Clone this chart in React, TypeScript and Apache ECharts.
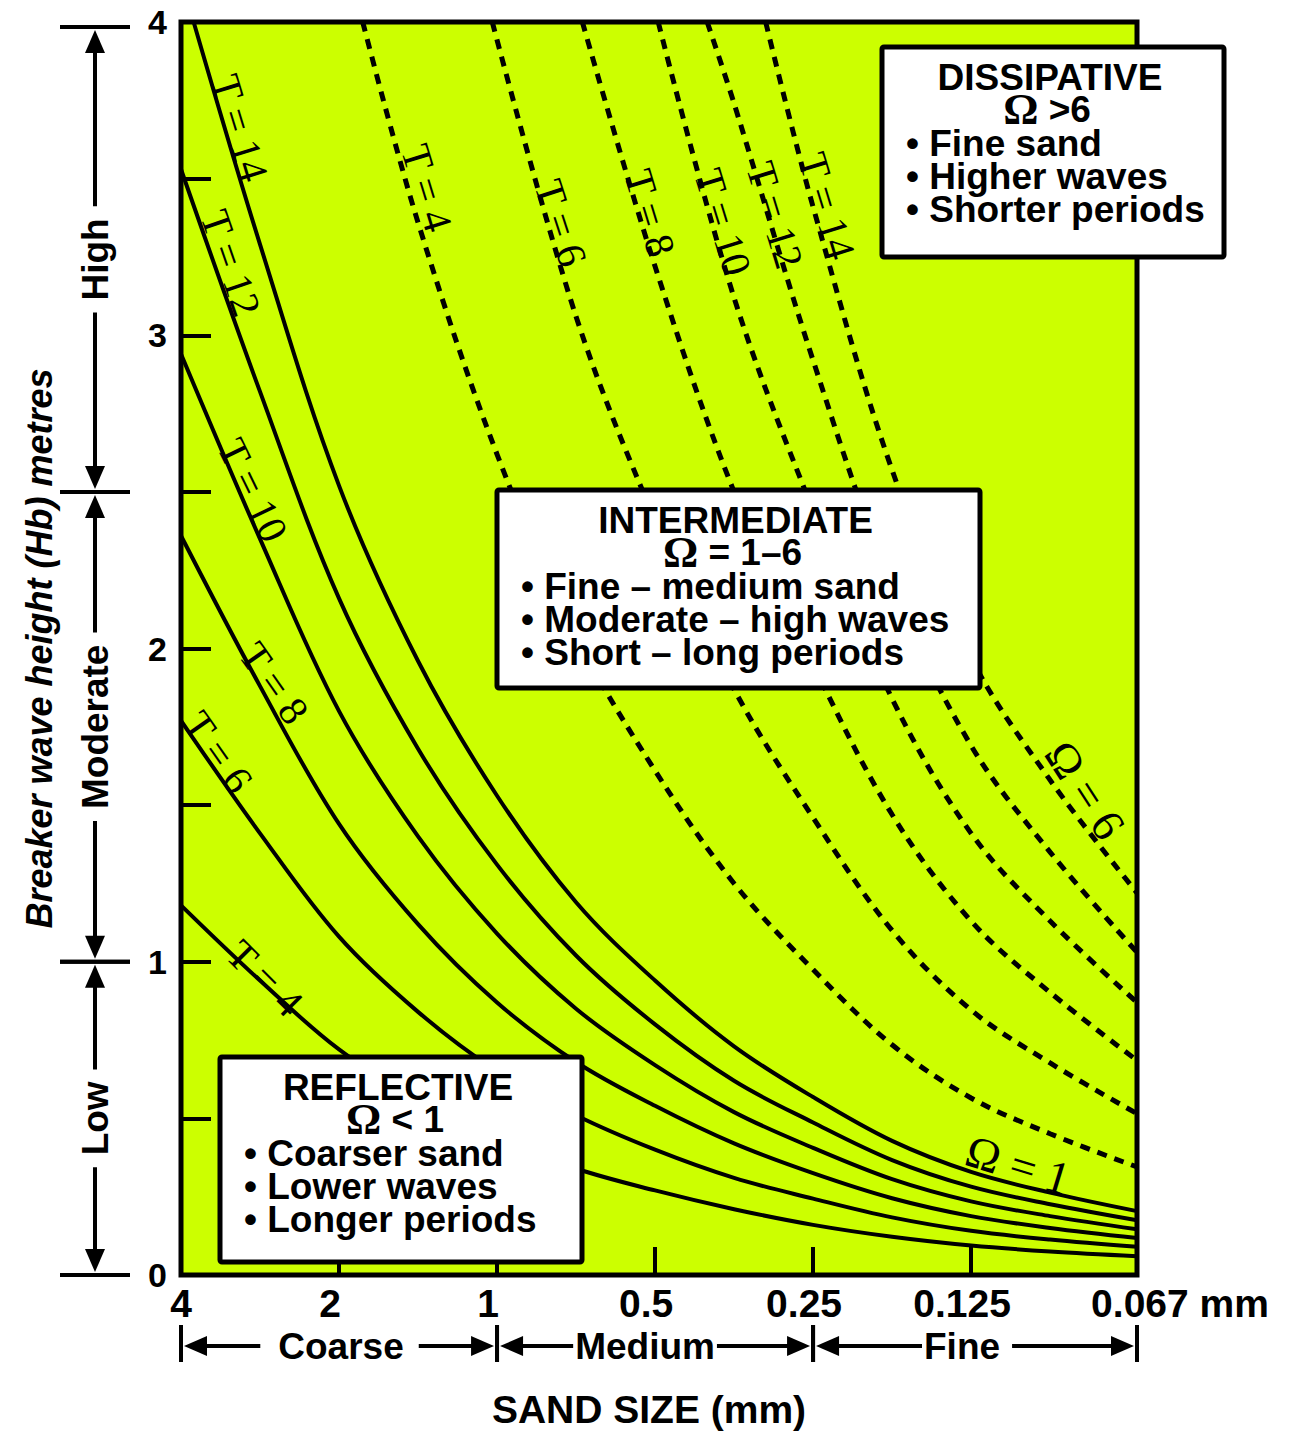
import React, { useEffect, useRef } from 'react';
import * as echarts from 'echarts';

// ---------- axis data ----------
// sand size labels (mm) and their position on the phi (-log2 d) axis
const sizeLabels = ['4', '2', '1', '0.5', '0.25', '0.125', '0.067'];
const sizePhi = [-2, -1, 0, 1, 2, 3, 4.05];
const heightTickStep = 0.5;

// ---------- curves: Omega = 1 (solid), one per wave period T ----------
const periods = [4, 6, 8, 10, 12, 14];
const omega1T4 = [[-2, 1.18], [-1.5, 0.94], [-1, 0.72], [-0.5, 0.56], [0, 0.44], [0.5, 0.34], [1, 0.27], [1.5, 0.21], [2, 0.16], [2.5, 0.122], [3, 0.094], [3.5, 0.075], [4.05, 0.06]];
const omega1T6 = [[-2, 1.77], [-1.5, 1.41], [-1, 1.08], [-0.5, 0.84], [0, 0.65], [0.5, 0.51], [1, 0.40], [1.5, 0.31], [2, 0.244], [2.5, 0.184], [3, 0.141], [3.5, 0.113], [4.05, 0.09]];
const omega1T8 = [[-2, 2.36], [-1.5, 1.88], [-1, 1.44], [-0.5, 1.12], [0, 0.87], [0.5, 0.68], [1, 0.54], [1.5, 0.42], [2, 0.325], [2.5, 0.245], [3, 0.188], [3.5, 0.15], [4.05, 0.118]];
const omega1T10 = [[-2, 2.94], [-1.5, 2.35], [-1, 1.80], [-0.5, 1.40], [0, 1.09], [0.5, 0.85], [1, 0.67], [1.5, 0.52], [2, 0.406], [2.5, 0.306], [3, 0.235], [3.5, 0.188], [4.05, 0.146]];
const omega1T12 = [[-2, 3.53], [-1.5, 2.82], [-1, 2.16], [-0.5, 1.68], [0, 1.31], [0.5, 1.02], [1, 0.80], [1.5, 0.62], [2, 0.487], [2.5, 0.367], [3, 0.282], [3.5, 0.226], [4.05, 0.175]];
const omega1T14 = [[-1.92, 4.0], [-1.5, 3.29], [-1, 2.52], [-0.5, 1.96], [0, 1.53], [0.5, 1.19], [1, 0.94], [1.5, 0.73], [2, 0.568], [2.5, 0.428], [3, 0.329], [3.5, 0.263], [4.05, 0.204]];

// ---------- curves: Omega = 6 (dashed) ----------
const omega6T4 = [[-0.85, 4.0], [-0.5, 3.36], [0, 2.62], [0.5, 2.04], [1, 1.61], [1.5, 1.25], [2, 0.975], [2.5, 0.735], [3, 0.565], [3.5, 0.451], [4.05, 0.345]];
const omega6T6 = [[-0.03, 4.0], [0.5, 3.06], [1, 2.41], [1.5, 1.87], [2, 1.46], [2.5, 1.10], [3, 0.846], [3.5, 0.677], [4.05, 0.515]];
const omega6T8 = [[0.54, 4.0], [1, 3.22], [1.5, 2.50], [2, 1.95], [2.5, 1.47], [3, 1.13], [3.5, 0.902], [4.05, 0.685]];
const omega6T10 = [[1.02, 4.0], [1.5, 3.12], [2, 2.44], [2.5, 1.84], [3, 1.41], [3.5, 1.13], [4.05, 0.87]];
const omega6T12 = [[1.33, 4.0], [1.5, 3.74], [2, 2.92], [2.5, 2.20], [3, 1.69], [3.5, 1.35], [4.05, 1.03]];
const omega6T14 = [[1.70, 4.0], [2, 3.41], [2.5, 2.57], [3, 1.97], [3.5, 1.58], [4.05, 1.22]];

// ---------- range bands ----------
const waveBands = ['High', 'Moderate', 'Low'];
const waveBandEdges = [4, 2.5, 1, 0];
const sandBands = ['Coarse', 'Medium', 'Fine'];
const sandBandEdges = [-2, 0, 2, 4.05];

// ---------- beach state boxes ----------
const boxTitles = ['REFLECTIVE', 'INTERMEDIATE', 'DISSIPATIVE'];
const boxOmega = [' < 1', ' = 1–6', ' >6'];
const boxBullets = [
  ['Coarser sand', 'Lower waves', 'Longer periods'],
  ['Fine – medium sand', 'Moderate – high waves', 'Short – long periods'],
  ['Fine sand', 'Higher waves', 'Shorter periods'],
];

// ---------- layout / style (not data) ----------
const SANS = '"Liberation Sans", Arial, Helvetica, sans-serif';
const SERIF = '"Liberation Serif", "Times New Roman", Times, serif';
const PLOT_BG = '#CCFF00';
const boxRects = [
  [220, 1057, 362, 205],
  [497, 490, 483, 198],
  [882, 47, 342, 210],
];
// [x, y, clockwise angle in degrees]
const solidLabelPlace = [[265, 978, 45], [218, 752, 55], [274, 683, 55], [253, 490, 64], [231, 263, 71], [240, 128, 73]];
const dashedLabelPlace = [[427, 188, 73], [561, 223, 72], [650, 213, 73], [723, 222, 73], [775, 215, 73], [827, 206, 73]];
const omegaLabelPlace = [[1018, 1165, 17, 'Ω = 1'], [1085, 790, 57, 'Ω = 6']];
// [shift of text centre, left gap, right gap]
const sandTextPlace = [[2, 18, 15], [-10, 2, 2], [-13, 2, 12]];

const solidCurves = [omega1T4, omega1T6, omega1T8, omega1T10, omega1T12, omega1T14];
const dashedCurves = [omega6T4, omega6T6, omega6T8, omega6T10, omega6T12, omega6T14];

function buildOption(): any {
  const series: any[] = [];
  solidCurves.forEach((d, i) => {
    series.push({
      name: `Ω=1 T=${periods[i]}`,
      type: 'line',
      data: d,
      smooth: 0.35,
      symbol: 'none',
      silent: true,
      z: 3,
      lineStyle: { color: '#000', width: 4 },
    });
  });
  dashedCurves.forEach((d, i) => {
    series.push({
      name: `Ω=6 T=${periods[i]}`,
      type: 'line',
      data: d,
      smooth: 0.35,
      symbol: 'none',
      silent: true,
      z: 3,
      lineStyle: { color: '#000', width: 5, type: [10, 8] },
    });
  });

  // wave height bands (left of the plot)
  series.push({
    type: 'custom',
    silent: true,
    clip: false,
    z: 10,
    dimensions: ['x', 'from', 'to'],
    encode: { x: 0, y: [1, 2] },
    data: waveBands.map((_, i) => [sizePhi[0], waveBandEdges[i], waveBandEdges[i + 1]]),
    renderItem: (params: any, api: any) => {
      const i = params.dataIndex;
      const a = api.coord([api.value(0), api.value(1)]);
      const b = api.coord([api.value(0), api.value(2)]);
      const X = a[0] - 86;
      const y0 = a[1] + (i === 0 ? 5 : 0);
      const y1 = b[1];
      const st = { stroke: '#000', lineWidth: 4 };
      return {
        type: 'group',
        children: [
          { type: 'line', shape: { x1: X - 35, y1: y0, x2: X + 35, y2: y0 }, style: st },
          { type: 'line', shape: { x1: X - 35, y1: y1, x2: X + 35, y2: y1 }, style: st },
          { type: 'line', shape: { x1: X, y1: y0 + 20, x2: X, y2: y1 - 20 }, style: st },
          { type: 'polygon', shape: { points: [[X, y0 + 3], [X - 10, y0 + 26], [X + 10, y0 + 26]] }, style: { fill: '#000' } },
          { type: 'polygon', shape: { points: [[X, y1 - 3], [X - 10, y1 - 26], [X + 10, y1 - 26]] }, style: { fill: '#000' } },
          {
            type: 'text',
            x: X,
            y: (y0 + y1) / 2,
            rotation: Math.PI / 2,
            z2: 10,
            style: {
              text: waveBands[i],
              fontFamily: SANS,
              fontWeight: 'bold',
              fontSize: 37,
              fill: '#000',
              align: 'center',
              verticalAlign: 'middle',
              backgroundColor: '#fff',
              padding: [0, 12],
            },
          },
        ],
      };
    },
  });

  // sand size bands (below the axis)
  series.push({
    type: 'custom',
    silent: true,
    clip: false,
    z: 10,
    dimensions: ['from', 'to', 'y'],
    encode: { x: [0, 1], y: 2 },
    data: sandBands.map((_, i) => [sandBandEdges[i], sandBandEdges[i + 1], 0]),
    renderItem: (params: any, api: any) => {
      const i = params.dataIndex;
      const a = api.coord([api.value(0), api.value(2)]);
      const b = api.coord([api.value(1), api.value(2)]);
      const Y = a[1] + 71;
      const x0 = a[0];
      const x1 = b[0];
      const [shift, gl, gr] = sandTextPlace[i];
      const st = { stroke: '#000', lineWidth: 4 };
      return {
        type: 'group',
        children: [
          { type: 'line', shape: { x1: x0, y1: Y - 21, x2: x0, y2: Y + 16 }, style: st },
          { type: 'line', shape: { x1: x1, y1: Y - 21, x2: x1, y2: Y + 16 }, style: st },
          { type: 'line', shape: { x1: x0 + 20, y1: Y, x2: x1 - 20, y2: Y }, style: st },
          { type: 'polygon', shape: { points: [[x0 + 3, Y], [x0 + 26, Y - 10], [x0 + 26, Y + 10]] }, style: { fill: '#000' } },
          { type: 'polygon', shape: { points: [[x1 - 3, Y], [x1 - 26, Y - 10], [x1 - 26, Y + 10]] }, style: { fill: '#000' } },
          {
            type: 'text',
            x: (x0 + x1) / 2 + shift + (gr - gl) / 2,
            y: Y,
            z2: 10,
            style: {
              text: sandBands[i],
              fontFamily: SANS,
              fontWeight: 'bold',
              fontSize: 37,
              fill: '#000',
              align: 'center',
              verticalAlign: 'middle',
              backgroundColor: '#fff',
              padding: [0, gr, 0, gl],
            },
          },
        ],
      };
    },
  });

  // ---------- graphic annotations ----------
  const graphic: any[] = [];
  const labelStyle = (text: string, size: number) => ({
    text,
    fontFamily: SERIF,
    fontSize: size,
    fill: '#000',
    align: 'center',
    verticalAlign: 'middle',
  });
  periods.forEach((t, i) => {
    const s = solidLabelPlace[i];
    graphic.push({ type: 'text', x: s[0], y: s[1], rotation: (-s[2] * Math.PI) / 180, z: 50, silent: true, style: labelStyle(`T = ${t}`, 41) });
    const d = dashedLabelPlace[i];
    graphic.push({ type: 'text', x: d[0], y: d[1], rotation: (-d[2] * Math.PI) / 180, z: 50, silent: true, style: labelStyle(`T = ${t}`, 41) });
  });
  omegaLabelPlace.forEach((o: any) => {
    graphic.push({ type: 'text', x: o[0], y: o[1], rotation: (-o[2] * Math.PI) / 180, z: 50, silent: true, style: labelStyle(o[3], 46) });
  });

  boxTitles.forEach((title, i) => {
    const [bx, by, bw, bh] = boxRects[i];
    const cx = bx + bw / 2;
    const children: any[] = [
      { type: 'rect', shape: { x: bx, y: by, width: bw, height: bh, r: 2 }, style: { fill: '#fff', stroke: '#000', lineWidth: 5 }, z: 60 },
      {
        type: 'text', x: cx - 3, y: by + 30, z: 61,
        style: { text: title, fontFamily: SANS, fontWeight: 'bold', fontSize: 37, fill: '#000', align: 'center', verticalAlign: 'middle' },
      },
      {
        type: 'text', x: cx - 6, y: by + 62, z: 61,
        style: {
          text: `{o|Ω}{t|${boxOmega[i]}}`,
          align: 'center',
          verticalAlign: 'middle',
          rich: {
            o: { fontFamily: SERIF, fontWeight: 'bold', fontSize: 44, fill: '#000' },
            t: { fontFamily: SANS, fontWeight: 'bold', fontSize: 37, fill: '#000' },
          },
        },
      },
    ];
    boxBullets[i].forEach((line, k) => {
      children.push({
        type: 'text', x: bx + 24, y: by + 96 + k * 33, z: 61,
        style: { text: `• ${line}`, fontFamily: SANS, fontWeight: 'bold', fontSize: 37, fill: '#000', align: 'left', verticalAlign: 'middle' },
      });
    });
    graphic.push({ type: 'group', silent: true, children });
  });

  const lastIdx = sizePhi.length - 1;
  return {
    animation: false,
    backgroundColor: '#fff',
    grid: {
      left: 181,
      right: 158,
      top: 22,
      bottom: 155,
      show: true,
      backgroundColor: PLOT_BG,
      borderColor: '#000',
      borderWidth: 5,
    },
    xAxis: {
      type: 'value',
      min: sizePhi[0],
      max: sizePhi[lastIdx],
      name: 'SAND SIZE (mm)',
      nameLocation: 'middle',
      nameGap: 115,
      nameTextStyle: { fontFamily: SANS, fontWeight: 'bold', fontSize: 39, color: '#000', padding: [0, 20, 0, 0] },
      axisLine: { show: false, onZero: false },
      splitLine: { show: false },
      axisTick: {
        show: true,
        inside: true,
        length: 28,
        customValues: sizePhi.slice(1, lastIdx),
        lineStyle: { color: '#000', width: 4 },
      },
      axisLabel: {
        customValues: sizePhi,
        margin: 9,
        showMinLabel: true,
        showMaxLabel: true,
        fontFamily: SANS,
        fontWeight: 'bold',
        fontSize: 39,
        color: '#000',
        formatter: (v: number) => {
          const i = sizePhi.findIndex((p) => Math.abs(p - v) < 1e-6);
          if (i < 0) return '';
          if (i === 0) return sizeLabels[0];
          if (i === lastIdx) return `{u|${sizeLabels[i]} mm}`;
          return `{s|${sizeLabels[i]}}`;
        },
        rich: {
          s: { fontFamily: SANS, fontWeight: 'bold', fontSize: 39, color: '#000', padding: [0, 18, 0, 0] },
          u: { fontFamily: SANS, fontWeight: 'bold', fontSize: 39, color: '#000', padding: [0, 0, 0, 86] },
        },
      },
    },
    yAxis: {
      type: 'value',
      min: 0,
      max: 4,
      interval: heightTickStep,
      name: 'Breaker wave height (Hb) metres',
      nameLocation: 'middle',
      nameGap: 124,
      nameRotate: 90,
      nameTextStyle: { fontFamily: SANS, fontWeight: 'bold', fontStyle: 'italic', fontSize: 36, color: '#000' },
      axisLine: { show: false, onZero: false },
      splitLine: { show: false },
      axisTick: { show: true, inside: true, length: 30, lineStyle: { color: '#000', width: 4 } },
      axisLabel: {
        margin: 14,
        showMinLabel: true,
        showMaxLabel: true,
        fontFamily: SANS,
        fontWeight: 'bold',
        fontSize: 34,
        color: '#000',
        formatter: (v: number) => (Number.isInteger(v) ? String(v) : ''),
      },
    },
    series,
    graphic,
  };
}

export default function App() {
  const ref = useRef<HTMLDivElement | null>(null);
  useEffect(() => {
    document.body.style.margin = '0';
    if (!ref.current) return;
    const chart = echarts.init(ref.current, undefined, { renderer: 'svg' });
    chart.setOption(buildOption());
    return () => chart.dispose();
  }, []);
  return <div ref={ref} style={{ width: 1295, height: 1434 }} />;
}
